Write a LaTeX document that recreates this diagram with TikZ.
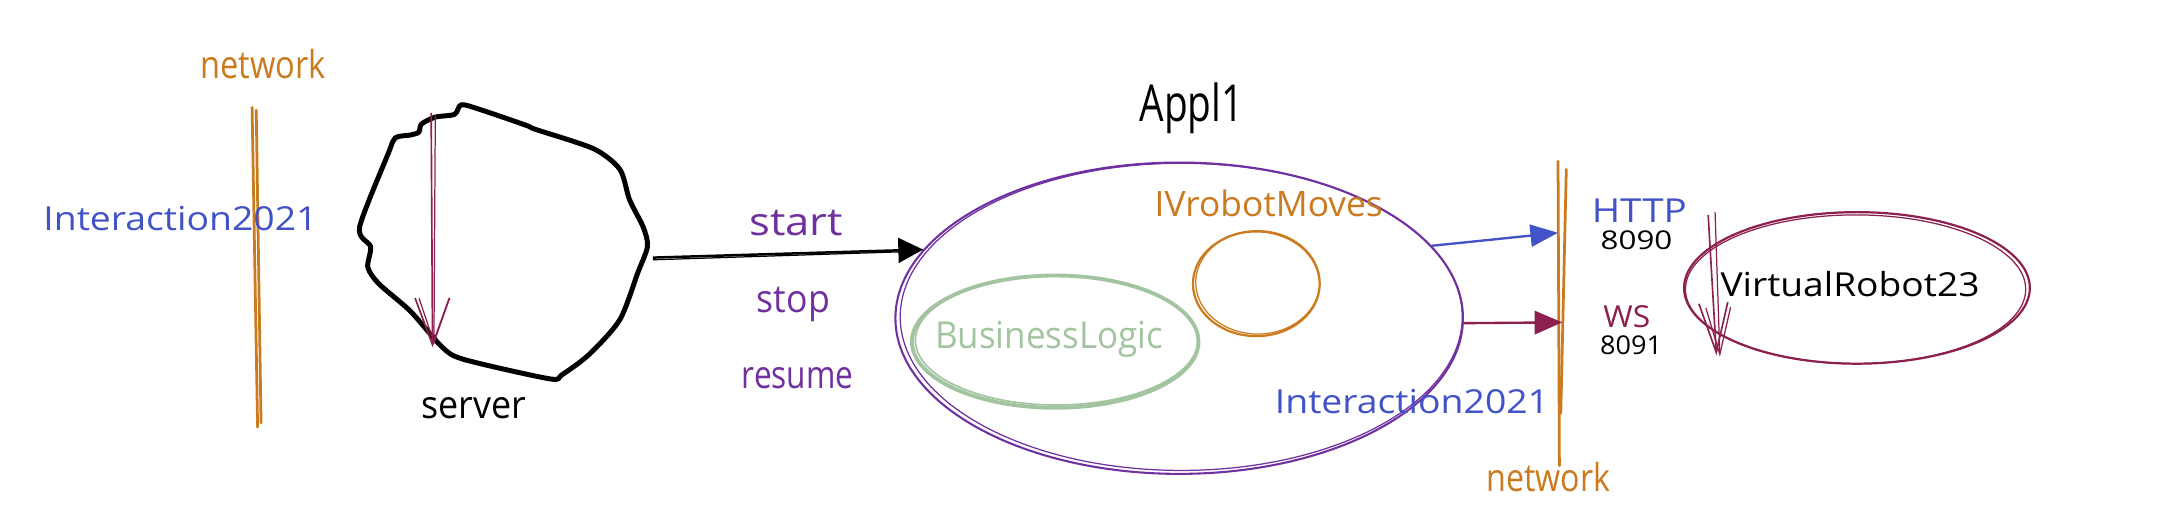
\documentclass[tikz,border=0pt]{standalone}
\usepackage{fontspec}
\setmainfont{Open Sans}
\usetikzlibrary{arrows.meta,shapes.geometric}
\definecolor{cOrange}{RGB}{204,122,30}
\definecolor{cBlue}{RGB}{66,82,199}
\definecolor{cPurple}{RGB}{112,48,160}
\definecolor{cMaroon}{RGB}{140,32,78}
\definecolor{cGreen}{RGB}{163,196,160}
% #1 font size (pt), #2 target width (picture px), #3 text
\newcommand\fitw[3]{\resizebox{\dimexpr #2pt/2\relax}{\height}{\fontsize{#1pt}{#1pt}\selectfont #3}}
\tikzset{
  lbl/.style={inner sep=0pt, anchor=base},
  blob/.style={ellipse, inner sep=0pt},
  netline/.style={cOrange, line width=1pt, line cap=round},
  sketch/.style={line width=0.45pt},
}
\begin{document}
\begin{tikzpicture}[x=0.5pt,y=-0.5pt]
\useasboundingbox[fill=white] (0,0) rectangle (1568,385);

% left network line
\coordinate (nLt1) at (183,78);  \coordinate (nLb1) at (187,310);
\coordinate (nLt2) at (186,80);  \coordinate (nLb2) at (189.5,307);
\draw[netline] (nLt1) -- (nLb1);
\draw[netline] (nLt2) -- (nLb2);
\node[lbl, text=cOrange] (netTop) at (191,57) {\fitw{14}{91}{network}};
\node[lbl, text=cBlue] (intL) at (131,167) {\fitw{12}{199}{Interaction2021}};

% server blob
\draw[line width=1.8pt, line join=round] plot[smooth cycle, tension=0.45] coordinates {
(335,76) (330,83) (316,85) (306,90) (304,96) (298,98) (287,100) (282,111)
(261,165) (269,179) (267,194) (275,206) (298,226) (321,252) (337,261)
(399,275) (408,272) (428,257) (450,232) (463,198) (470,179) (467,165)
(457,145) (450,123) (431,108) (389,94) (382,91) (350,80)};
\coordinate (srvE) at (474,187);
\coordinate (sA1) at (313,82);  \coordinate (sB1) at (314,252);
\coordinate (sA2) at (316,84);  \coordinate (sB2) at (315,250);
\draw[cMaroon, line width=0.6pt, -{Straight Barb[length=17pt,width=12.5pt]}] (sA1) -- (sB1);
\draw[cMaroon, line width=0.45pt, -{Straight Barb[length=16pt,width=11pt]}] (sA2) -- (sB2);
\node[lbl] (server) at (344,304) {\fitw{14}{76}{server}};

% Appl1
\node[blob, draw=cPurple, line width=0.75pt, minimum width=206pt, minimum height=113pt] (appl) at (856,231) {};
\draw[cPurple, sketch] (857.5,230) ellipse [x radius=204, y radius=111.5];
\node[lbl] (appl1) at (865,88) {\fitw{18.5}{75.5}{Appl1}};

% start/stop/resume arrow
\draw[line width=0.9pt, -{Triangle[length=9pt,width=9pt]}] (srvE) -- (appl.165);
\draw[line width=0.45pt] ([yshift=-0.8pt]srvE) -- ([yshift=-0.8pt,xshift=-8pt]appl.165);
\node[lbl, text=cPurple] (start) at (578,171) {\fitw{14}{68}{start}};
\node[lbl, text=cPurple] (stop) at (576,227) {\fitw{14}{53}{stop}};
\node[lbl, text=cPurple] (resume) at (579,282) {\fitw{14}{81}{resume}};

% BusinessLogic
\node[blob, draw=cGreen, line width=1.4pt, minimum width=104pt, minimum height=48pt] (bl) at (766,248) {};
\draw[cGreen, line width=0.6pt] (767,247) ellipse [x radius=102.5, y radius=47];
\node[lbl, text=cGreen] (business) at (761.5,253) {\fitw{13.5}{165.5}{BusinessLogic}};

% IVrobotMoves
\node[blob, draw=cOrange, line width=0.8pt, minimum width=46pt, minimum height=38pt] (ivc) at (912,206) {};
\draw[cOrange, sketch] (913,205) ellipse [x radius=45, y radius=37.5];
\node[lbl, text=cOrange] (ivrobot) at (921,157) {\fitw{12.7}{165.5}{IVrobotMoves}};

\node[lbl, text=cBlue] (intR) at (1025,300) {\fitw{12}{199}{Interaction2021}};

% right network line
\coordinate (nRt1) at (1131,117); \coordinate (nRb1) at (1132,338);
\coordinate (nRt2) at (1137,123); \coordinate (nRb2) at (1133,300);
\draw[netline] (nRt1) -- (nRb1);
\draw[netline] (nRt2) -- (nRb2);
\node[lbl, text=cOrange] (netBot) at (1124,357) {\fitw{14}{90}{network}};

% HTTP / WS arrows
\coordinate (netH) at (1131,169);
\coordinate (netW) at (1134,234);
\draw[cBlue, line width=0.85pt, -{Triangle[length=10pt,width=8pt]}] (appl.16) -- (netH);
\draw[cMaroon, line width=0.85pt, -{Triangle[length=10pt,width=8.5pt]}] (appl.-1) -- (netW);
\node[lbl, text=cBlue] (http) at (1190,161.5) {\fitw{12}{69}{HTTP}};
\node[lbl] (p8090) at (1188,181) {\fitw{9.4}{52}{8090}};
\node[lbl, text=cMaroon] (ws) at (1181,237.5) {\fitw{11}{34}{WS}};
\node[lbl] (p8091) at (1184,257) {\fitw{9.4}{45}{8091}};

% VirtualRobot23
\node[blob, draw=cMaroon, line width=0.8pt, minimum width=125.5pt, minimum height=55pt] (vr) at (1348,209) {};
\draw[cMaroon, sketch] (1347,210) ellipse [x radius=123.5, y radius=54];
\coordinate (vA1) at (1240,156); \coordinate (vB1) at (1246,258);
\coordinate (vA2) at (1245,154); \coordinate (vB2) at (1248.5,259);
\draw[cMaroon, line width=0.6pt, -{Straight Barb[length=18pt,width=10.5pt]}] (vA1) -- (vB1);
\draw[cMaroon, line width=0.45pt, -{Straight Barb[length=17pt,width=9pt]}] (vA2) -- (vB2);
\node[lbl] (vrt) at (1343,215) {\fitw{12}{188}{VirtualRobot23}};
\end{tikzpicture}
\end{document}
